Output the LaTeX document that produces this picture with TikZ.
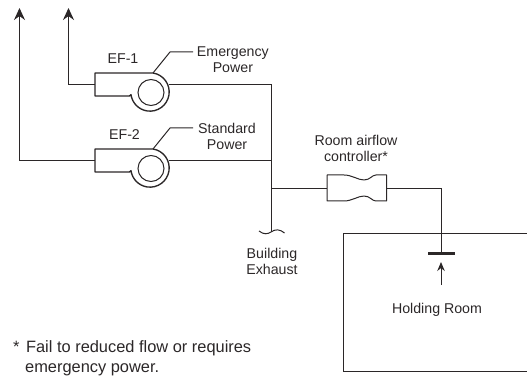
\documentclass[tikz,border=0pt]{standalone}
\usepackage{fontspec}
\setmainfont{Liberation Sans}
\usepackage{tikz}
\usetikzlibrary{arrows.meta}
\definecolor{ink}{HTML}{2B2728}
\newcommand{\fan}[2]{%
  \begin{scope}[shift={(0,#2)}]
    \coordinate (#1in) at (95,84.5);
    \coordinate (#1out) at (169,84.5);
    \coordinate (#1lead) at (153,73);
    \draw[duct,line join=round] (95,73) -- (153,73) arc (-81:172:19.2) to[out=-100,in=0] (127,96) -- (95,96) -- cycle;
    \draw[thin duct] (151,92.5) circle (13);
  \end{scope}%
}
\tikzset{
  duct/.style={ink,line width=1.35pt},
  thin duct/.style={ink,line width=1pt},
  lab/.style={ink,font=\fontsize{14.2}{16}\selectfont,align=center,inner sep=0pt},
  notelab/.style={ink,font=\fontsize{16.4}{20.3}\selectfont,align=left,inner sep=0pt},
  flow/.style={-{Stealth[length=12pt,width=11pt]}}
}
\begin{document}
\begin{tikzpicture}[x=1pt,y=-1pt]
  \useasboundingbox (0,0) rectangle (527,379);
  \fan{efa}{0}
  \fan{efb}{76}
  % exhaust stacks
  \coordinate (topa) at (68.5,8);
  \coordinate (topb) at (19.5,8);
  \draw[duct,flow] (efain) -| (topa);
  \draw[duct,flow] (efbin) -| (topb);
  % header
  \coordinate (hdr) at (271.5,84.5);
  \coordinate (hdrend) at (271.5,232);
  \coordinate (tee) at (271.5,188.5);
  \draw[duct] (efaout) -- (hdr) -- (hdrend);
  \draw[duct] (efbout) -- (efbout -| hdr);
  \draw[thin duct] (259,231) .. controls (264,235) and (268,234) .. (271,232) .. controls (275,229) and (280,229) .. (284.5,233);
  % airflow controller
  \coordinate (cin) at (327,188.5);
  \coordinate (cout) at (386.5,188.5);
  \draw[thin duct,line join=round] (cin) -- (327,175) -- (344,175) .. controls (352,175) and (358,180) .. (364,180)
    .. controls (370,180) and (372,175) .. (376,175) -- (386.5,175) -- (cout) -- (386.5,201) -- (376,201)
    .. controls (372,201) and (370,196) .. (364,196) .. controls (358,196) and (352,201) .. (344,201) -- (327,201) -- cycle;
  \draw[duct] (tee) -- (cin);
  \coordinate (bar) at (441.5,254);
  \draw[duct] (cout) -| (bar);
  \draw[ink,line width=3pt] (428,254) -- (455,254);
  \coordinate (flowa) at (441,285);
  \coordinate (flowb) at (441,262);
  \draw[thin duct,-{Stealth[length=9pt,width=7.5pt]}] (flowa) -- (flowb);
  % room
  \draw[thin duct] (527,233.5) -- (343,233.5) -- (343,371.5) -- (527,371.5);
  % labels
  \node[lab] (efalab) at (123,59) {EF-1};
  \node[lab] (efblab) at (124.5,135) {EF-2};
  \node[lab,anchor=east] (epwr) at (269,60) {Emergency\\Power};
  \node[lab,anchor=west] (spwr) at (198,136) {Standard\\Power};
  \draw[thin duct] (efalead) -- (170,52) -- (193,52);
  \draw[thin duct] (efblead) -- (170,128) -- (193,128);
  \node[lab] (ctl) at (356,148) {Room airflow\\controller*};
  \node[lab] (bex) at (272,261) {Building\\Exhaust};
  \node[lab] (hold) at (437,310) {Holding Room};
  \node[notelab,anchor=north west] (note) at (13,340) {*\hspace{6.5pt}Fail to reduced flow or requires\\\hspace{12pt}emergency power.};
\end{tikzpicture}
\end{document}
